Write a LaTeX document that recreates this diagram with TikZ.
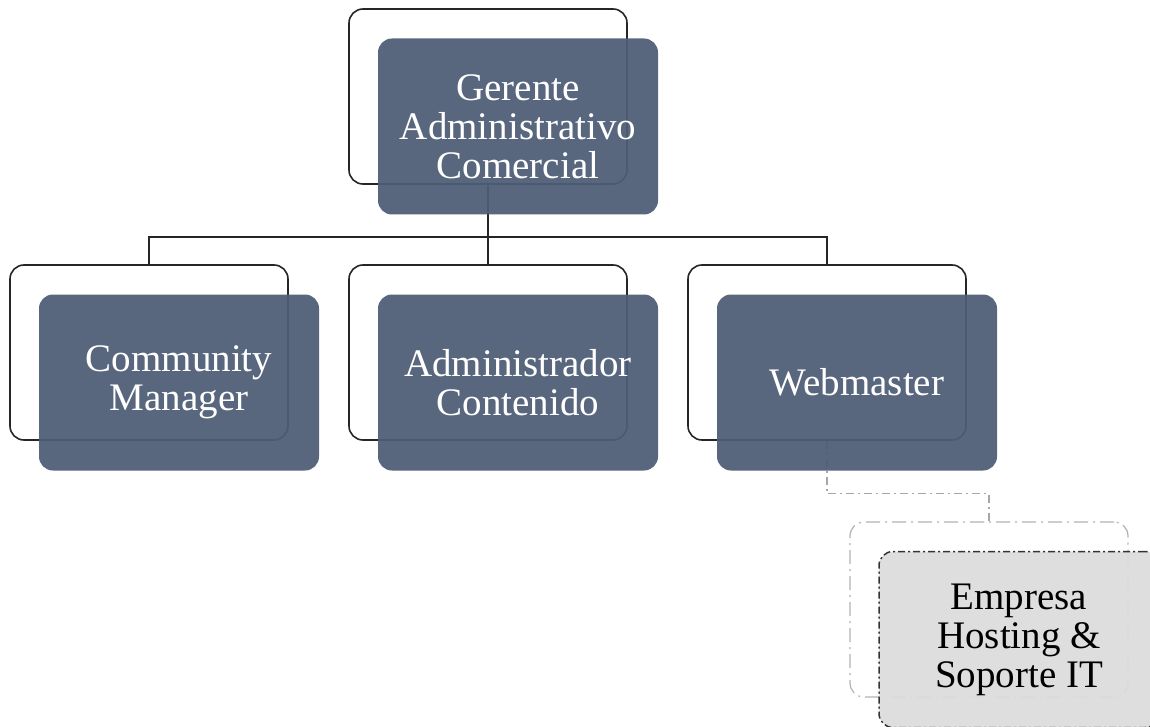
\documentclass[tikz,border=0pt]{standalone}
\usepackage{xcolor}
\usepackage{fontspec}
\setmainfont{Liberation Serif}
\usepackage{tikz}
\usetikzlibrary{positioning}

\definecolor{slate}{RGB}{78,93,118}
\definecolor{paleGray}{RGB}{220,220,220}

\begin{document}
\begin{tikzpicture}[x=1pt,y=-1pt,
    back/.style={rectangle, draw=black!85, line width=1.6pt, rounded corners=14pt, minimum width=278pt, minimum height=175pt},
    front/.style={rectangle, fill=slate, fill opacity=0.94, text opacity=1, text=white, rounded corners=14pt, minimum width=280pt, minimum height=176pt, align=center, font=\fontsize{39}{39}\selectfont},
    backext/.style={back, draw=black!30, line width=1.2pt, dash pattern=on 14pt off 5pt on 2pt off 5pt},
    frontext/.style={front, fill=paleGray, text=black, draw=black!80, line width=1.5pt, dash pattern=on 7pt off 3pt on 2pt off 3pt},
    link/.style={draw=black!85, line width=1.6pt},
    linkext/.style={draw=black!35, line width=1.2pt, dash pattern=on 8pt off 4pt on 2pt off 4pt}]
    \useasboundingbox (0,0) rectangle (1150,727);

    \node[back] (gerenteB) at (488,96.5) {};
    \node[back] (communityB) at (149,352.5) {};
    \node[back] (contenidoB) at (488,352.5) {};
    \node[back] (webB) at (827,352.5) {};
    \node[backext] (empresaB) at (989,609.5) {};

    \draw[link] (gerenteB.south) -- ++(0,52) -| (communityB.north);
    \draw[link] (gerenteB.south) -- ++(0,52) -| (webB.north);
    \draw[link] (gerenteB.south) -- (contenidoB.north);
    \draw[linkext] (webB.south) -- ++(0,53) -| (empresaB.north);

    \node[front] (gerente) at ([shift={(30,30)}]gerenteB) {Gerente\\Administrativo\\Comercial};
    \node[front] (community) at ([shift={(30,30)}]communityB) {Community\\Manager};
    \node[front] (contenido) at ([shift={(30,30)}]contenidoB) {Administrador\\Contenido};
    \node[front] (web) at ([shift={(30,30)}]webB) {Webmaster};
    \node[frontext] (empresa) at ([shift={(30,30)}]empresaB) {Empresa\\Hosting \&\\Soporte IT};

\end{tikzpicture}
\end{document}
